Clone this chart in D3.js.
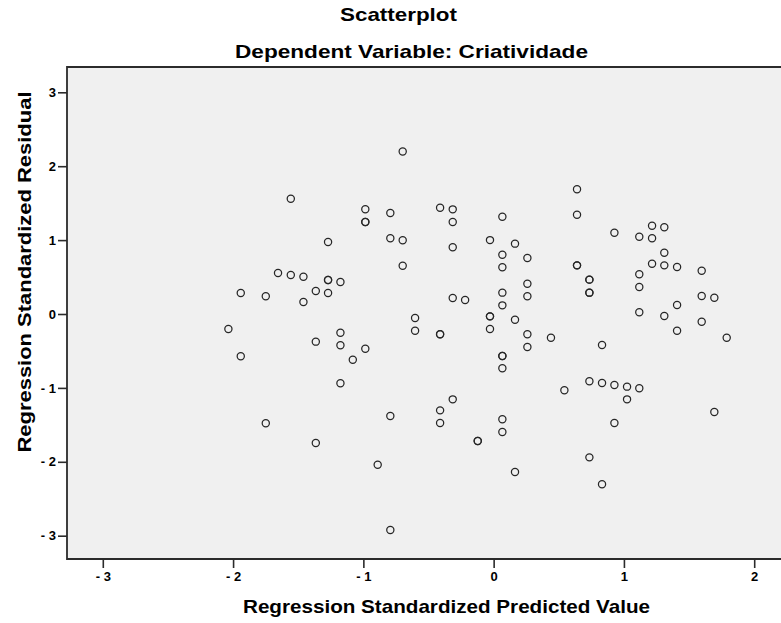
<!DOCTYPE html>
<html>
<head>
<meta charset="utf-8">
<script src="https://cdn.jsdelivr.net/npm/d3@7"></script>
<style>
  html, body { margin: 0; padding: 0; background: #ffffff; }
  svg { display: block; }
  text { font-family: "Liberation Sans", Arial, Helvetica, sans-serif; font-weight: bold; fill: #000; }
</style>
</head>
<body>
<svg id="chart" width="781" height="623"></svg>
<script>
// Standardized predicted values (x) and standardized residuals (y)
const predicted = [
  -2.036, -1.941, -1.941, -1.749, -1.749, -1.655, -1.557, -1.557, -1.46, -1.46,
  -1.365, -1.365, -1.365, -1.271, -1.271, -1.271, -1.271, -1.176, -1.176, -1.176,
  -1.176, -1.081, -0.985, -0.985, -0.985, -0.985, -0.89, -0.793, -0.793, -0.793,
  -0.793, -0.698, -0.698, -0.698, -0.603, -0.603, -0.411, -0.411, -0.411, -0.411,
  -0.411, -0.314, -0.314, -0.314, -0.314, -0.314, -0.219, -0.122, -0.122, -0.028,
  -0.028, -0.028, -0.028, 0.067, 0.067, 0.067, 0.067, 0.067, 0.067, 0.067,
  0.067, 0.067, 0.067, 0.164, 0.164, 0.164, 0.259, 0.259, 0.259, 0.259,
  0.259, 0.44, 0.543, 0.64, 0.64, 0.64, 0.64, 0.735, 0.735, 0.735,
  0.735, 0.735, 0.735, 0.832, 0.832, 0.832, 0.927, 0.927, 0.927, 1.024,
  1.024, 1.118, 1.118, 1.118, 1.118, 1.118, 1.216, 1.216, 1.216, 1.31,
  1.31, 1.31, 1.31, 1.408, 1.408, 1.408, 1.597, 1.597, 1.597, 1.694,
  1.694, 1.789
];
const residual = [
  -0.203, 0.284, -0.573, 0.24, -1.479, 0.555, 1.56, 0.528, 0.505, 0.162,
  0.311, -0.374, -1.746, 0.974, 0.46, 0.46, 0.284, 0.433, -0.253, -0.424,
  -0.938, -0.618, 1.417, 1.245, 1.245, -0.469, -2.039, 1.367, 1.024, -1.38,
  -2.923, 2.20, 0.997, 0.654, -0.054, -0.226, 1.438, -0.275, -0.275, -1.304,
  -1.475, 1.416, 1.245, 0.902, 0.217, -1.155, 0.189, -1.719, -1.719, 1.0,
  -0.032, -0.032, -0.203, 1.317, 0.803, 0.632, 0.289, 0.117, -0.568, -0.568,
  -0.735, -1.425, -1.597, 0.952, -0.077, -2.138, 0.758, 0.41, 0.24, -0.275,
  -0.447, -0.321, -1.033, 1.687, 1.344, 0.658, 0.658, 0.465, 0.465, 0.289,
  0.289, -0.911, -1.94, -0.419, -0.934, -2.305, 1.1, -0.961, -1.475, -0.983,
  -1.155, 1.046, 0.537, 0.365, 0.023, -1.006, 1.195, 1.024, 0.681, 1.173,
  0.83, 0.658, -0.027, 0.636, 0.122, -0.226, 0.586, 0.244, -0.104, 0.221,
  -1.326, -0.321
];

const xTickValues = [-3, -2, -1, 0, 1, 2];
const xTickLabels = ["- 3", "- 2", "- 1", "0", "1", "2"];
const yTickValues = [-3, -2, -1, 0, 1, 2, 3];
const yTickLabels = ["- 3", "- 2", "- 1", "0", "1", "2", "3"];

const titleText = "Scatterplot";
const subtitleText = "Dependent Variable: Criatividade";
const xTitleText = "Regression Standardized Predicted Value";
const yTitleText = "Regression Standardized Residual";

const svg = d3.select("#chart");

// Plot frame
const frame = { left: 67, top: 67, right: 781, bottom: 559 };

const x = d3.scaleLinear().domain([-3, 2]).range([102.8, 754.2]);
const y = d3.scaleLinear().domain([-3, 3]).range([535.7, 92.3]);

svg.append("rect")
  .attr("x", frame.left).attr("y", frame.top)
  .attr("width", frame.right - frame.left + 2)
  .attr("height", frame.bottom - frame.top)
  .attr("fill", "#f0f0f0");

// Frame lines: top, left, bottom
const frameColor = "#2b2b2b";
svg.append("path")
  .attr("d", `M${frame.right + 2},${frame.top} H${frame.left} V${frame.bottom} H${frame.right + 2}`)
  .attr("fill", "none")
  .attr("stroke", frameColor)
  .attr("stroke-width", 1.8);

// X axis
const xAxis = d3.axisBottom(x)
  .tickValues(xTickValues)
  .tickSize(9)
  .tickPadding(4)
  .tickFormat((d, i) => xTickLabels[i]);
const gx = svg.append("g")
  .attr("transform", `translate(0,${frame.bottom})`)
  .call(xAxis);
gx.select(".domain").remove();
gx.selectAll(".tick line").attr("stroke", frameColor).attr("stroke-width", 1.6);
gx.selectAll(".tick text")
  .attr("fill", "#000")
  .style("font-size", "13px")
  .style("font-family", "'Liberation Sans', Arial, sans-serif")
  .style("font-weight", "bold");

// Y axis
const yAxis = d3.axisLeft(y)
  .tickValues(yTickValues)
  .tickSize(9)
  .tickPadding(2)
  .tickFormat((d, i) => yTickLabels[i]);
const gy = svg.append("g")
  .attr("transform", `translate(${frame.left},0)`)
  .call(yAxis);
gy.select(".domain").remove();
gy.selectAll(".tick line").attr("stroke", frameColor).attr("stroke-width", 1.6);
gy.selectAll(".tick text")
  .attr("fill", "#000")
  .style("font-size", "13px")
  .style("font-family", "'Liberation Sans', Arial, sans-serif")
  .style("font-weight", "bold");

// Points
const points = predicted.map((p, i) => ({ p, r: residual[i] }));
svg.append("g")
  .selectAll("circle")
  .data(points)
  .join("circle")
  .attr("cx", d => x(d.p))
  .attr("cy", d => y(d.r))
  .attr("r", 3.6)
  .attr("fill", "none")
  .attr("stroke", "#262626")
  .attr("stroke-width", 1.25);

// Titles
svg.append("text")
  .attr("x", 398.5).attr("y", 21)
  .attr("text-anchor", "middle")
  .attr("textLength", 117).attr("lengthAdjust", "spacingAndGlyphs")
  .style("font-size", "18.5px")
  .text(titleText);

svg.append("text")
  .attr("x", 411.5).attr("y", 57.5)
  .attr("text-anchor", "middle")
  .attr("textLength", 353).attr("lengthAdjust", "spacingAndGlyphs")
  .style("font-size", "18.5px")
  .text(subtitleText);

svg.append("text")
  .attr("x", 446.5).attr("y", 612.5)
  .attr("text-anchor", "middle")
  .attr("textLength", 407).attr("lengthAdjust", "spacingAndGlyphs")
  .style("font-size", "18.5px")
  .text(xTitleText);

svg.append("text")
  .attr("transform", "translate(30.5,272) rotate(-90)")
  .attr("text-anchor", "middle")
  .attr("textLength", 361).attr("lengthAdjust", "spacingAndGlyphs")
  .style("font-size", "18.5px")
  .text(yTitleText);
</script>
</body>
</html>
